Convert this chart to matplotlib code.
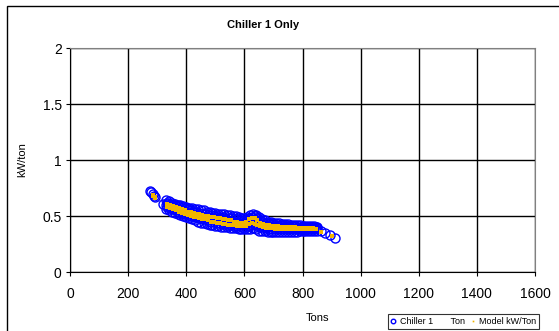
import matplotlib
matplotlib.use("Agg")
import matplotlib.pyplot as plt
from matplotlib.patches import Rectangle

plt.rcParams['font.family'] = ['Liberation Sans', 'DejaVu Sans']

# ---- data ----
band_tons = [330, 340, 350, 360, 370, 380, 390, 400, 410, 420, 430, 440, 450, 460, 470,
             480, 490, 500, 510, 520, 530, 540, 550, 560, 570, 580, 590, 600, 610, 620,
             630, 640, 650, 660, 670, 680, 690, 700, 710, 720, 730, 740, 750, 760, 770,
             780, 790, 800, 810, 820, 830, 840, 850]
kw_upper = [.64, .63, .62, .61, .60, .60, .59, .58, .57, .57, .56, .56, .55, .55, .54,
            .54, .53, .53, .52, .52, .52, .51, .51, .50, .50, .49, .48, .48, .49, .51,
            .52, .51, .49, .47, .46, .45, .45, .44, .44, .44, .43, .43, .43, .42, .42,
            .42, .42, .41, .41, .41, .41, .41, .40]
kw_mid = [.60, .59, .58, .57, .56, .55, .55, .54, .53, .52, .51, .51, .50, .49, .49,
          .48, .48, .47, .47, .46, .46, .45, .45, .44, .44, .44, .43, .43, .44, .46,
          .47, .46, .44, .42, .42, .41, .41, .41, .40, .40, .40, .40, .40, .39, .39,
          .39, .39, .39, .39, .39, .39, .39, .39]
kw_lower = [.56, .55, .54, .53, .52, .51, .50, .49, .48, .47, .46, .45, .44, .44, .43,
            .42, .42, .41, .41, .40, .40, .40, .39, .39, .39, .38, .38, .38, .38, .38,
            .39, .38, .37, .37, .37, .36, .36, .36, .36, .36, .36, .36, .36, .36, .36,
            .36, .37, .37, .37, .37, .37, .37, .37]
band_tons2 = [335, 345, 355, 365, 375, 385, 395, 405, 415, 425, 435, 445, 455, 465, 475,
              485, 495, 505, 515, 525, 535, 545, 555, 565, 575, 585, 595, 605, 615, 625,
              635, 645, 655, 665, 675, 685, 695, 705, 715, 725, 735, 745, 755, 765, 775,
              785, 795, 805, 815, 825, 835, 845]
kw_q1 = [.62, .61, .60, .59, .58, .57, .57, .56, .55, .54, .54, .53, .52, .52, .51,
         .51, .50, .50, .49, .49, .48, .48, .48, .47, .47, .46, .46, .46, .48, .49,
         .50, .48, .46, .45, .44, .43, .43, .42, .42, .42, .42, .41, .41, .41, .41,
         .40, .40, .40, .40, .40, .40, .40]
kw_q3 = [.58, .57, .56, .55, .54, .53, .52, .51, .50, .50, .49, .48, .47, .46, .46,
         .45, .45, .44, .44, .43, .43, .42, .42, .41, .41, .41, .40, .40, .41, .42,
         .43, .42, .40, .39, .39, .38, .38, .38, .38, .38, .38, .38, .38, .38, .38,
         .38, .38, .38, .38, .38, .38, .38]
extra_tons = [275, 280, 285, 290, 293, 320, 338, 864, 877, 895, 912]
extra_kw = [.72, .71, .70, .68, .67, .61, .62, .37, .35, .33, .30]

model_tons = [285, 292, 335, 345, 355, 365, 375, 385, 395, 405, 415, 425, 435, 445, 455,
              465, 475, 485, 495, 505, 515, 525, 535, 545, 555, 565, 575, 585, 595, 605,
              615, 625, 635, 645, 655, 665, 675, 685, 695, 705, 715, 725, 735, 745, 755,
              765, 775, 785, 795, 805, 815, 825, 835, 845, 865, 900]
model_a = [.69, .67, .61, .60, .59, .58, .57, .56, .55, .54, .54, .53, .52, .52, .51,
           .50, .50, .49, .49, .48, .48, .47, .47, .46, .46, .45, .45, .44, .44, .45,
           .47, .48, .48, .46, .44, .43, .42, .42, .41, .41, .41, .40, .40, .40, .40,
           .40, .40, .39, .39, .39, .39, .39, .39, .38, .36, .32]
model_b = [.68, .66, .58, .57, .56, .55, .54, .53, .52, .51, .50, .49, .49, .48, .47,
           .47, .46, .45, .45, .44, .44, .43, .43, .42, .42, .42, .41, .41, .41, .41,
           .43, .44, .43, .42, .41, .40, .39, .39, .39, .38, .38, .38, .38, .38, .38,
           .38, .38, .38, .38, .38, .38, .38, .38, .38, .36, .32]

x_ticks = [0, 200, 400, 600, 800, 1000, 1200, 1400, 1600]
y_ticks = [0, 0.5, 1, 1.5, 2]
y_tick_labels = ['0', '0.5', '1', '1.5', '2']

W, H = 559, 331
fig = plt.figure(figsize=(W / 100, H / 100), dpi=100)
ax = fig.add_axes([70 / W, 1 - 272 / H, (535 - 70) / W, (272 - 48) / H])

# outer chart border (clipped at right/bottom)
fig.patches.append(Rectangle((6.5 / W, -0.1), 1.2, 1 - 5.5 / H + 0.1,
                             transform=fig.transFigure, fill=False,
                             edgecolor='black', linewidth=1.0))

blue = '#0000FF'
gold = '#F0B400'
all_t = band_tons * 3 + band_tons2 * 2 + extra_tons
all_k = kw_upper + kw_mid + kw_lower + kw_q1 + kw_q3 + extra_kw
ax.plot(all_t, all_k, 'o', mfc='none', mec=blue, ms=6.5, mew=1.0,
        label='Chiller 1       Ton', zorder=3, clip_on=False)
ax.plot(model_tons * 2, model_a + model_b, 's', color=gold, ms=2.4, mew=0,
        label='Model kW/Ton', zorder=4)

ax.set_xlim(0, 1600)
ax.set_ylim(0, 2)
ax.set_xticks(x_ticks)
ax.set_yticks(y_ticks)
ax.set_yticklabels(y_tick_labels)
ax.grid(True, color='black', linewidth=1.0)
ax.set_axisbelow(True)
for s in ['top', 'right']:
    ax.spines[s].set_color('#808080')
for s in ['left', 'bottom']:
    ax.spines[s].set_color('black')
ax.tick_params(axis='both', labelsize=10, length=3, width=0.8, direction='out', colors='black')
ax.tick_params(axis='x', pad=8)
ax.tick_params(axis='y', pad=3)

fig.text(263 / W, 1 - 25 / H, 'Chiller 1 Only', ha='center', va='center',
         fontsize=8, fontweight='bold')
fig.text(22 / W, 1 - 160 / H, 'kW/ton', ha='center', va='center', rotation=90, fontsize=8)
fig.text(317 / W, 1 - 318 / H, 'Tons', ha='center', va='center', fontsize=8)

leg = fig.legend(loc='upper left', bbox_to_anchor=(383 / W, 1 - 309 / H), ncol=2,
                 fontsize=6.5, frameon=True, fancybox=False, edgecolor='black',
                 handlelength=0.6, handletextpad=0.4, columnspacing=0.6,
                 borderpad=0.35, markerscale=0.5)
leg.get_frame().set_linewidth(0.8)

fig.savefig('out.png', dpi=100)
